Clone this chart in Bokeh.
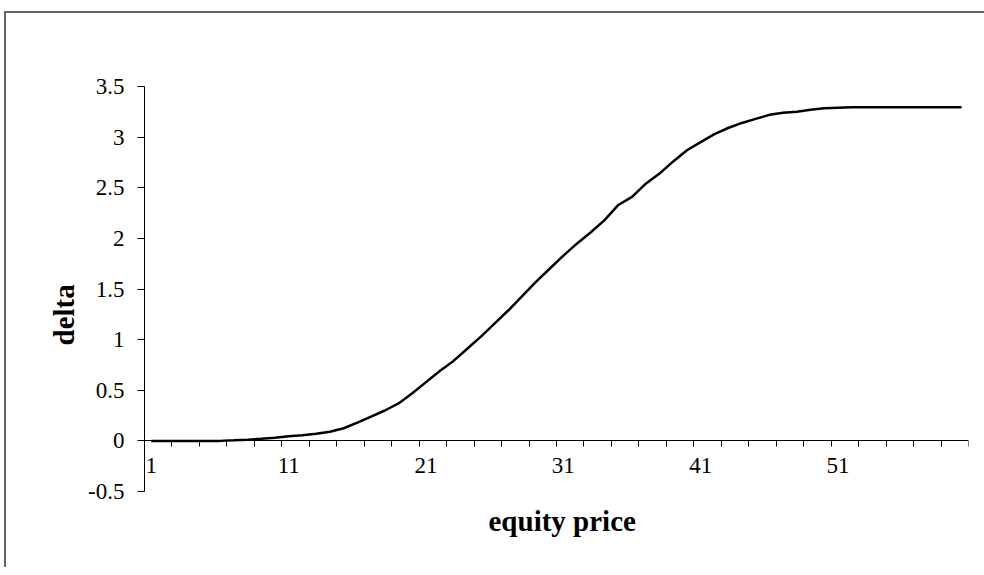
from bokeh.plotting import figure
from bokeh.models import Range1d, FixedTicker, LinearAxis, Title
from bokeh.embed import file_html
from bokeh.resources import INLINE

# ---- data ----
equity_price = list(range(1, 61))
delta = [0.0, 0.0, 0.0, 0.0, 0.0, 0.0, 0.005, 0.012, 0.02, 0.03,
         0.045, 0.055, 0.07, 0.09, 0.125, 0.18, 0.24, 0.30, 0.37, 0.47,
         0.58, 0.69, 0.79, 0.91, 1.03, 1.16, 1.29, 1.43, 1.57, 1.70,
         1.83, 1.95, 2.06, 2.18, 2.33, 2.41, 2.54, 2.64, 2.76, 2.87,
         2.95, 3.03, 3.09, 3.14, 3.18, 3.22, 3.24, 3.25, 3.27, 3.285,
         3.29, 3.295, 3.295, 3.295, 3.295, 3.295, 3.295, 3.295, 3.295, 3.295]
x_tick_labels = [1, 11, 21, 31, 41, 51]
y_ticks = [-0.5, 0, 0.5, 1, 1.5, 2, 2.5, 3, 3.5]
y_tick_labels = ["-0.5", "0", "0.5", "1", "1.5", "2", "2.5", "3", "3.5"]

FONT = "Liberation Serif"
TICK_SIZE = "23px"
TITLE_SIZE = "29px"

p = figure(frame_width=824, frame_height=405,
           x_range=Range1d(0.5, 60.5), y_range=Range1d(-0.5, 3.5),
           output_backend="svg", toolbar_location=None,
           min_border_left=138, min_border_top=73,
           min_border_right=16, min_border_bottom=76,
           x_axis_type=None)
p.styles = {"border-left": "2px solid #666", "border-top": "2px solid #666",
            "margin-left": "4px", "margin-top": "11px"}
p.outline_line_color = None
p.grid.visible = False
p.background_fill_color = "white"
p.border_fill_color = "white"

p.line(equity_price, delta, line_color="black", line_width=2.5)

# y axis
ya = p.yaxis[0]
ya.ticker = FixedTicker(ticks=y_ticks)
ya.major_label_overrides = {t: s for t, s in zip(y_ticks, y_tick_labels)}
ya.minor_tick_line_color = None
ya.major_tick_in = 0
ya.major_tick_out = 7
ya.major_label_standoff = 13
ya.axis_line_color = "black"
ya.major_tick_line_color = "black"
ya.major_label_text_font = FONT
ya.major_label_text_font_size = TICK_SIZE
ya.major_label_text_color = "black"

# y axis title
p.add_layout(Title(text="delta", align="left", offset=146, standoff=11,
                   text_font=FONT, text_font_style="bold",
                   text_font_size=TITLE_SIZE, text_color="black"), "left")

# x axis title (first in the bottom panel stack, right under the frame)
p.add_layout(Title(text="equity price", align="left", offset=344, standoff=22,
                   text_font=FONT, text_font_style="bold",
                   text_font_size=TITLE_SIZE, text_color="black"), "below")

# x tick labels at category centres
xl = LinearAxis(ticker=FixedTicker(ticks=x_tick_labels), fixed_location=0)
xl.axis_line_color = None
xl.major_tick_line_color = None
xl.minor_tick_line_color = None
xl.major_tick_in = 0
xl.major_tick_out = 0
xl.major_label_standoff = 17
xl.major_label_text_font = FONT
xl.major_label_text_font_size = TICK_SIZE
xl.major_label_text_color = "black"
p.add_layout(xl, "below")

# x axis line with tick marks (at y = 0)
tick_bounds = [0.5 + 2 * k for k in range(31)]
xa = LinearAxis(ticker=FixedTicker(ticks=tick_bounds), fixed_location=0)
xa.major_label_overrides = {t: "" for t in tick_bounds}
xa.major_label_text_font_size = "0px"
xa.major_label_standoff = 0
xa.minor_tick_line_color = None
xa.major_tick_in = 0
xa.major_tick_out = 6
xa.axis_line_color = "black"
xa.major_tick_line_color = "black"
p.add_layout(xa, "below")

open("out.html", "w").write(file_html(p, INLINE))
